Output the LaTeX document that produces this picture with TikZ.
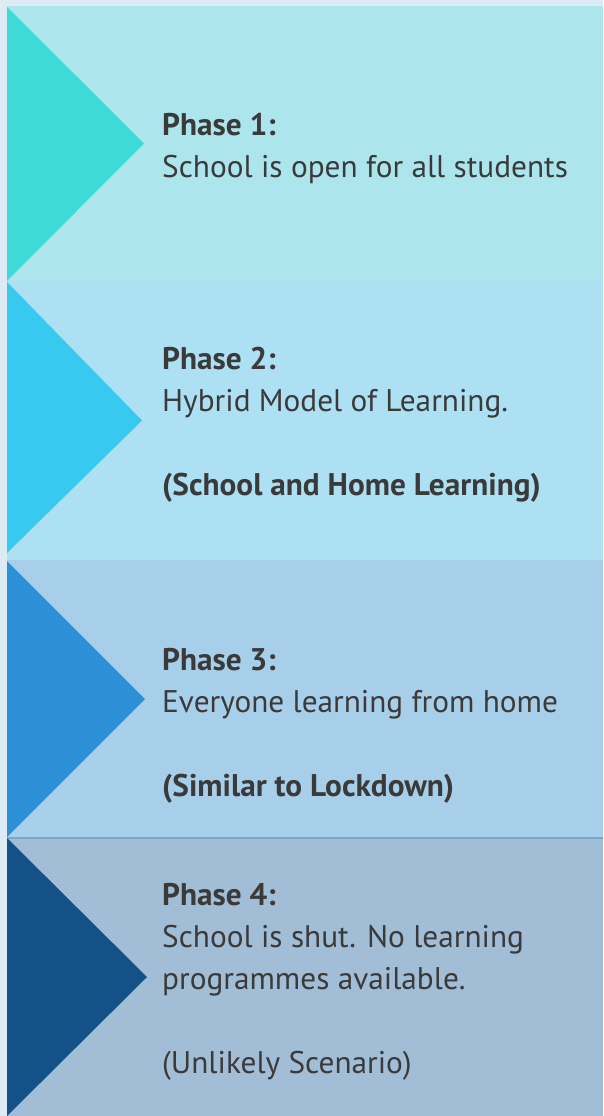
\documentclass[tikz,border=0pt]{standalone}
\usepackage{fontspec}
\setmainfont{PT Sans}
\definecolor{pagebg}{HTML}{DDEBF4}
\definecolor{bandA}{HTML}{ADE5ED}
\definecolor{bandB}{HTML}{ADE0F3}
\definecolor{bandC}{HTML}{A8CFEA}
\definecolor{bandD}{HTML}{A2BDD6}
\definecolor{wedgeA}{HTML}{3EDBD6}
\definecolor{wedgeB}{HTML}{37C9EF}
\definecolor{wedgeC}{HTML}{2B90D6}
\definecolor{wedgeD}{HTML}{145188}
\definecolor{inkgrey}{HTML}{3A3A3A}
\definecolor{seamline}{HTML}{7DA6CB}
\usetikzlibrary{calc,positioning}
\tikzset{
	band/.style={
		rectangle,
		anchor=north west,
		inner sep=0pt,
		outer sep=0pt,
		minimum width=596pt},
	wedge/.style={draw=none},
	phasetext/.style={
		anchor=base west,
		inner sep=0pt,
		align=left,
		text=inkgrey,
		font=\fontsize{31.3}{42}\selectfont},
}

\begin{document}
\begin{tikzpicture}
[x=1pt,y=-1pt]
\fill[pagebg] (0,0) rectangle (603,1116);
\useasboundingbox (0,0) rectangle (603,1116);

% the four bands
\node[band, fill=bandA, minimum height=275pt] (band1) at (7,6) {};
\node[band, fill=bandB, minimum height=279pt] (band2) at (7,281) {};
\node[band, fill=bandC, minimum height=278pt] (band3) at (7,560) {};
\node[band, fill=bandD, minimum height=278pt] (band4) at (7,838) {};
\draw[seamline, line width=1.5pt] (band4.north west) -- (band4.north east);

% wedges pointing right
\fill[wedge, wedgeA] ($(band1.north west)+(0,1)$) -- ($(band1.west)+(137,0)$) -- (band1.south west) -- cycle;
\fill[wedge, wedgeB] ($(band2.north west)+(0,1)$) -- ($(band2.west)+(135,0)$) -- ($(band2.south west)+(0,-7)$) -- cycle;
\fill[wedge, wedgeC] ($(band3.north west)+(0,1)$) -- ($(band3.west)+(138,0)$) -- ($(band3.south west)+(0,-1)$) -- cycle;
\fill[wedge, wedgeD] (band4.north west) -- ($(band4.west)+(140,0)$) -- (band4.south west) -- cycle;

% texts (base = last line)
\node[phasetext] (text1) at (162,177) {\textbf{Phase 1:}\\School is open for all students};
\node[phasetext] (text2) at (162,495) {\textbf{Phase 2:}\\Hybrid Model of Learning.\\[42pt]\textbf{(School and Home Learning)}};
\node[phasetext] (text3) at (162,796) {\textbf{Phase 3:}\\Everyone learning from home\\[42pt]\textbf{(Similar to Lockdown)}};
\node[phasetext] (text4) at (162,1073) {\textbf{Phase 4:}\\School is shut. No learning\\programmes available.\\[42pt](Unlikely Scenario)};
\end{tikzpicture}
\end{document}
